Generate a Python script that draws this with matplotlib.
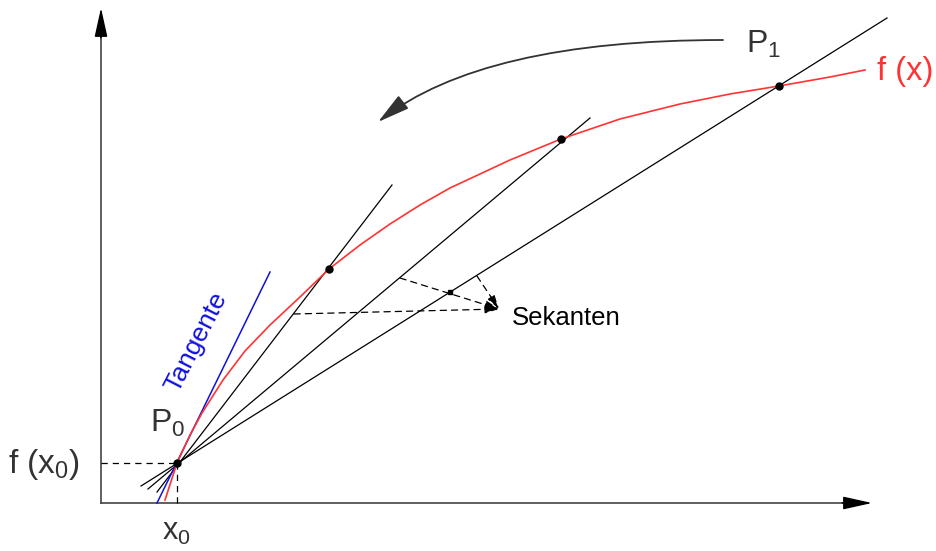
import matplotlib
matplotlib.use('Agg')
from matplotlib import pyplot as plt
from matplotlib.patches import FancyArrowPatch

plt.rcParams['font.family'] = ['Liberation Sans', 'DejaVu Sans']
plt.rcParams['mathtext.fontset'] = 'custom'
plt.rcParams['mathtext.rm'] = 'Liberation Sans'
plt.rcParams['mathtext.it'] = 'Liberation Sans'

# all coordinates in picture units (x right, y down)
axis_origin = (101, 503)
x_axis_end = 872
y_axis_end = 8

# f(x)
curve_x = [165, 177, 190, 202, 223, 245, 270, 300, 329, 360, 390, 420, 450, 480, 510, 561, 620, 680, 730, 779, 830, 865]
curve_y = [500, 463, 435, 413, 380, 351, 325, 297, 269, 245, 224, 205, 188, 174, 160, 139, 119, 104, 94, 86, 77, 70]

# P0 and the three secant points
p0 = (177, 463)
pts_x = [329, 561, 779]
pts_y = [269, 139, 86]

# secant line ends (lower left, upper right)
sec_lo_x = [157, 148, 141]
sec_lo_y = [492, 489, 486]
sec_hi_x = [392, 590, 887]
sec_hi_y = [185, 118, 18]

# tangent
tan_x = [157, 270]
tan_y = [503, 272]

# big curved arrow from P1 to the left
arc_start = (723, 40)
arc_end = (378, 122)

# dashed pointers to "Sekanten"
ptr_x = [294, 400, 477]
ptr_y = [314, 278, 276]
ptr_tip = (499, 309)

fig = plt.figure(figsize=(9.37, 5.51), dpi=100)
ax = fig.add_axes([0, 0, 1, 1])
ax.set_xlim(0, 937)
ax.set_ylim(551, 0)
ax.axis('off')

lw = 0.9
head = '-|>,head_length=0.9,head_width=0.2'
ax.plot([axis_origin[0], x_axis_end - 10], [axis_origin[1]] * 2, color='#444', lw=1.2)
ax.plot([axis_origin[0]] * 2, [axis_origin[1], y_axis_end + 10], color='#444', lw=1.2)
ax.annotate('', xy=(x_axis_end, axis_origin[1]), xytext=(x_axis_end - 30, axis_origin[1]),
            arrowprops=dict(arrowstyle=head, mutation_scale=20, color='k', lw=1, shrinkA=0, shrinkB=0))
ax.annotate('', xy=(axis_origin[0], y_axis_end), xytext=(axis_origin[0], y_axis_end + 30),
            arrowprops=dict(arrowstyle=head, mutation_scale=20, color='k', lw=1, shrinkA=0, shrinkB=0))

# dashed helper lines at P0
ax.plot([axis_origin[0], p0[0]], [p0[1], p0[1]], color='k', lw=lw, ls=(0, (5, 4)))
ax.plot([p0[0], p0[0]], [p0[1], axis_origin[1]], color='k', lw=lw, ls=(0, (5, 4)))

# secants
for i in range(3):
    ax.plot([sec_lo_x[i], sec_hi_x[i]], [sec_lo_y[i], sec_hi_y[i]], color='k', lw=lw)

ax.plot(tan_x, tan_y, color='#1010e0', lw=1.1)
ax.plot(curve_x, curve_y, color='#ff3333', lw=1.2)

ax.plot([p0[0]] + pts_x, [p0[1]] + pts_y, 'o', color='k', ms=5)
ax.plot([450], [292], 's', color='k', ms=3)

# pointers
for i in range(3):
    ax.annotate('', xy=ptr_tip, xytext=(ptr_x[i], ptr_y[i]),
                arrowprops=dict(arrowstyle='-|>,head_length=0.7,head_width=0.2', mutation_scale=12,
                                color='k', lw=lw, ls=(0, (5, 4)), shrinkA=0, shrinkB=0))

# big arc
arc = FancyArrowPatch(arc_start, arc_end, connectionstyle='angle3,angleA=0,angleB=38',
                      arrowstyle='-|>,head_length=1.0,head_width=0.25', mutation_scale=20,
                      color='#333', lw=1.3, shrinkA=0, shrinkB=0)
ax.add_patch(arc)

tc = '#333333'
ax.text(746, 53, 'P$_1$', fontsize=23, color=tc, va='baseline')
ax.text(877, 80, 'f (x)', fontsize=23.5, color='#ff3333', va='baseline')
ax.text(150, 432, 'P$_0$', fontsize=23, color=tc, va='baseline')
ax.text(8, 473, 'f (x$_0$)', fontsize=24, color=tc, va='baseline')
ax.text(162, 540, 'x$_0$', fontsize=22, color=tc, va='baseline')
ax.text(512, 325, 'Sekanten', fontsize=18.5, color='k', va='baseline')
ax.text(196, 342, 'Tangente', fontsize=19, color='#1010e0', rotation=63,
        ha='center', va='center')

plt.savefig('out.png', dpi=100)
plt.close()
